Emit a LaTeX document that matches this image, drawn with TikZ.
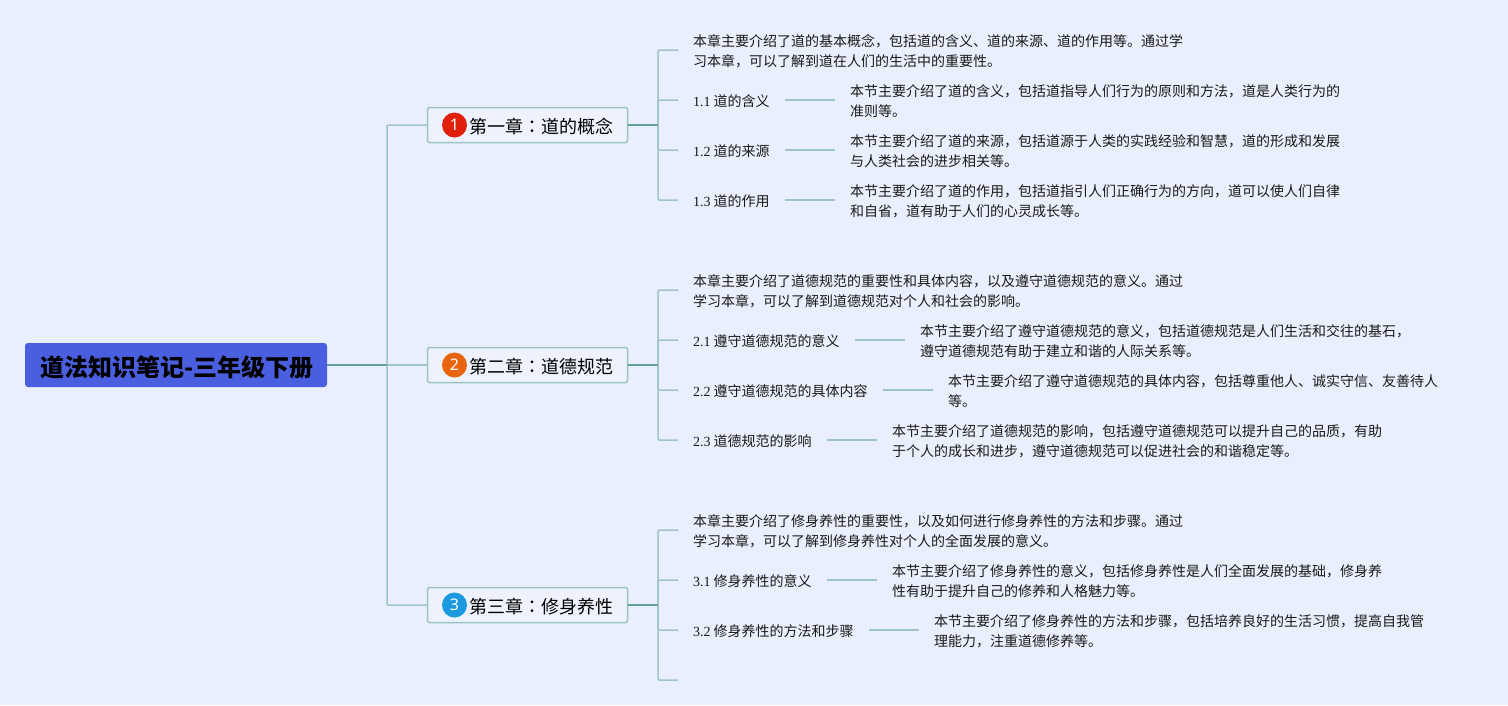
\documentclass[tikz,border=0pt]{standalone}
\usepackage{fontspec}
\setmainfont{Noto Sans CJK SC}
\newfontfamily\lat{Liberation Serif}
\newfontfamily\iconfont{Noto Sans}
\newfontfamily\tcfont{Noto Sans CJK TC}
\definecolor{bgc}{HTML}{E9EFFD}
\definecolor{lightline}{HTML}{9EC4C6}
\definecolor{darkline}{HTML}{62A09C}
\definecolor{rootfill}{HTML}{4A5FE0}
\definecolor{chapfill}{HTML}{EDF2FD}
\definecolor{ink}{HTML}{1A1A1A}
\tikzset{
  rootnode/.style={fill=rootfill,rounded corners=3pt,minimum width=302pt,minimum height=44pt,inner sep=0pt,font=\fontsize{24}{28}\selectfont\bfseries,text=black},
  chapnode/.style={draw=lightline,line width=1.5pt,fill=chapfill,rounded corners=1.5pt,minimum width=200pt,minimum height=35pt,inner sep=0pt,font=\fontsize{18}{22}\selectfont,text=black},
  iconnode/.style={circle,minimum size=25pt,inner sep=0pt,text=white,font=\iconfont\fontsize{16}{18}\selectfont},
  leafnode/.style={anchor=west,yshift=-1.5pt,inner sep=0pt,outer xsep=15pt,align=left,text=ink,font=\fontsize{14}{20}\selectfont},
  lightc/.style={draw=lightline,line width=1.5pt,rounded corners=1pt},
  darkc/.style={draw=darkline,line width=1.5pt},
  itemc/.style={draw=lightline,line width=1.5pt}
}
\newcommand{\num}[1]{{\lat #1}}
\newcommand{\chaptext}[2]{\hspace*{27pt}\raisebox{-1.5pt}[\height][\depth]{#1{\tcfont ：}#2}}
\begin{document}
\begin{tikzpicture}[x=1pt,y=-1pt]
\useasboundingbox[fill=bgc] (0,0) rectangle (1508,705);
% root and chapters
\node[rootnode] (root) at (176,365) {\hspace*{2pt}\raisebox{-2pt}[\height][\depth]{道法知识笔记-三年级下册}};
\node[chapnode] (c1) at (527.5,125) {\chaptext{第一章}{道的概念}};
\node[chapnode] (c2) at (527.5,365) {\chaptext{第二章}{道德规范}};
\node[chapnode] (c3) at (527.5,605) {\chaptext{第三章}{修身养性}};
\node[iconnode,fill={rgb,255:red,224;green,32;blue,10}] (i1) at (454.5,125) {1};
\node[iconnode,fill={rgb,255:red,232;green,100;blue,15}] (i2) at (454.5,365) {2};
\node[iconnode,fill={rgb,255:red,28;green,154;blue,223}] (i3) at (454.5,605) {3};
\coordinate (j0) at (387,365);
\coordinate (j1) at (658,125);
\coordinate (j2) at (658,365);
\coordinate (j3) at (658,605);
% chapter 1
\node[leafnode] (a0) at (678,50) {本章主要介绍了道的基本概念，包括道的含义、道的来源、道的作用等。通过学\\习本章，可以了解到道在人们的生活中的重要性。};
\node[leafnode] (a1) at (678,100) {\num{1.1} 道的含义};
\node[leafnode] (a2) at (678,150) {\num{1.2} 道的来源};
\node[leafnode] (a3) at (678,200) {\num{1.3} 道的作用};
\node[leafnode] (d11) at (835,100) {本节主要介绍了道的含义，包括道指导人们行为的原则和方法，道是人类行为的\\准则等。};
\node[leafnode] (d12) at (835,150) {本节主要介绍了道的来源，包括道源于人类的实践经验和智慧，道的形成和发展\\与人类社会的进步相关等。};
\node[leafnode] (d13) at (835,200) {本节主要介绍了道的作用，包括道指引人们正确行为的方向，道可以使人们自律\\和自省，道有助于人们的心灵成长等。};
% chapter 2
\node[leafnode] (b0) at (678,290) {本章主要介绍了道德规范的重要性和具体内容，以及遵守道德规范的意义。通过\\学习本章，可以了解到道德规范对个人和社会的影响。};
\node[leafnode] (b1) at (678,340) {\num{2.1} 遵守道德规范的意义};
\node[leafnode] (b2) at (678,390) {\num{2.2} 遵守道德规范的具体内容};
\node[leafnode] (b3) at (678,440) {\num{2.3} 道德规范的影响};
\node[leafnode] (d21) at (905,340) {本节主要介绍了遵守道德规范的意义，包括道德规范是人们生活和交往的基石，\\遵守道德规范有助于建立和谐的人际关系等。};
\node[leafnode] (d22) at (933,390) {本节主要介绍了遵守道德规范的具体内容，包括尊重他人、诚实守信、友善待人\\等。};
\node[leafnode] (d23) at (877,440) {本节主要介绍了道德规范的影响，包括遵守道德规范可以提升自己的品质，有助\\于个人的成长和进步，遵守道德规范可以促进社会的和谐稳定等。};
% chapter 3
\node[leafnode] (e0) at (678,530) {本章主要介绍了修身养性的重要性，以及如何进行修身养性的方法和步骤。通过\\学习本章，可以了解到修身养性对个人的全面发展的意义。};
\node[leafnode] (e1) at (678,580) {\num{3.1} 修身养性的意义};
\node[leafnode] (e2) at (678,630) {\num{3.2} 修身养性的方法和步骤};
\coordinate (e3) at (678,681.5);
\node[leafnode] (d31) at (877,580) {本节主要介绍了修身养性的意义，包括修身养性是人们全面发展的基础，修身养\\性有助于提升自己的修养和人格魅力等。};
\node[leafnode] (d32) at (919,630) {本节主要介绍了修身养性的方法和步骤，包括培养良好的生活习惯，提高自我管\\理能力，注重道德修养等。};
% connectors: light
\draw[lightc] (j0) |- (c1.west);
\draw[lightc] (j0) |- (c3.west);
\draw[lightc] (j0) -- (c2.west);
\foreach \n/\j in {a0/j1,a1/j1,a2/j1,a3/j1,b0/j2,b1/j2,b2/j2,b3/j2,e0/j3,e1/j3,e2/j3,e3/j3}{
  \draw[lightc] (\j) |- ([yshift=1.5pt]\n.west);
}
\foreach \p/\q in {a1/d11,a2/d12,a3/d13,b1/d21,b2/d22,b3/d23,e1/d31,e2/d32}{
  \draw[itemc] ([yshift=1.5pt]\p.east) -- ([yshift=1.5pt]\q.west);
}
% connectors: dark
\draw[darkc] (root.east) -- (j0);
\draw[darkc] (c1.east) -- (j1);
\draw[darkc] (c2.east) -- (j2);
\draw[darkc] (c3.east) -- (j3);
\end{tikzpicture}
\end{document}
